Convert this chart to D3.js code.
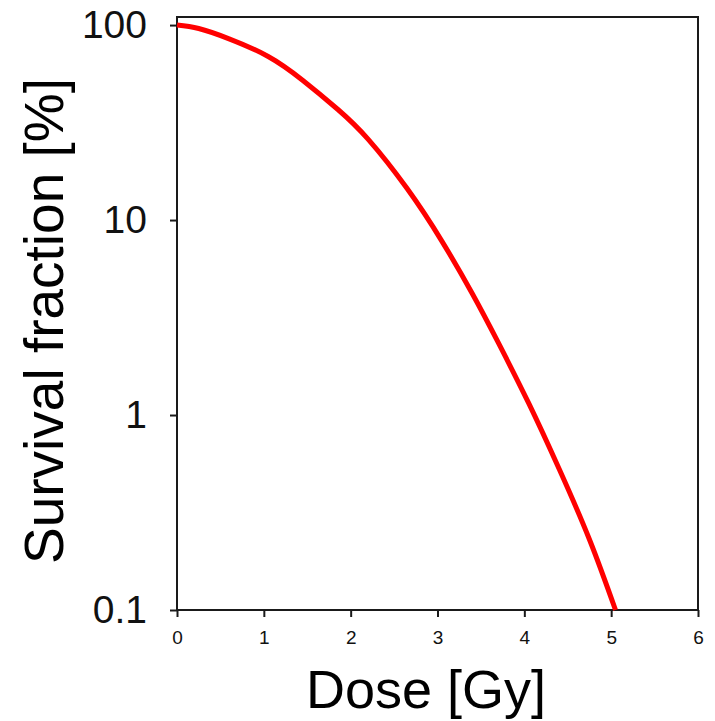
<!DOCTYPE html>
<html>
<head>
<meta charset="utf-8">
<script src="https://cdn.jsdelivr.net/npm/d3@7"></script>
<style>
  body { margin: 0; background: #fff; }
  svg { display: block; }
</style>
</head>
<body>
<div id="chart"></div>
<script>
// Survival curve (dose in Gy, survival in %)
const dose = [0, 0.25, 0.6, 1.05, 1.45, 1.85, 2.2, 2.65, 3.05, 3.4, 3.7, 4.05, 4.4, 4.75, 5.05];
const survival = [100, 96, 85, 69, 52, 37, 26, 14.5, 7.8, 4.2, 2.35, 1.15, 0.53, 0.23, 0.1];

const xTicks = [0, 1, 2, 3, 4, 5, 6];
const yTicks = [0.1, 1, 10, 100];

const width = 715;
const height = 721;
const plot = { left: 177, right: 698, top: 17, bottom: 610 };

const svg = d3.select("#chart")
    .append("svg")
    .attr("width", width)
    .attr("height", height);

const x = d3.scaleLinear()
    .domain([0, 6])
    .range([plot.left, plot.right]);

const y = d3.scaleLog()
    .domain([0.1, 110])
    .range([plot.bottom, plot.top]);

// frame
svg.append("rect")
    .attr("x", plot.left)
    .attr("y", plot.top)
    .attr("width", plot.right - plot.left)
    .attr("height", plot.bottom - plot.top)
    .style("fill", "none")
    .style("stroke", "#1a1a1a")
    .style("stroke-width", 2);

// x axis
const xAxis = svg.append("g")
    .attr("transform", `translate(0,${plot.bottom})`)
    .call(d3.axisBottom(x).tickValues(xTicks).tickFormat(d3.format("d"))
        .tickSize(7).tickPadding(14));
xAxis.select(".domain").remove();
xAxis.selectAll("line").style("stroke", "#1a1a1a").style("stroke-width", 2);
xAxis.selectAll("text")
    .style("font-family", "Liberation Sans, Arial, sans-serif")
    .style("font-size", "19px")
    .style("fill", "#111");

// y axis
const yAxis = svg.append("g")
    .attr("transform", `translate(${plot.left},0)`)
    .call(d3.axisLeft(y).tickValues(yTicks).tickFormat(d => d < 1 ? "0.1" : d3.format("d")(d))
        .tickSize(7).tickPadding(23));
yAxis.select(".domain").remove();
yAxis.selectAll("line").style("stroke", "#1a1a1a").style("stroke-width", 2);
yAxis.selectAll("text")
    .style("font-family", "Liberation Sans, Arial, sans-serif")
    .style("font-size", "39px")
    .style("fill", "#111");

// the curve
const points = dose.map((d, i) => ({ dose: d, surv: survival[i] }));
const line = d3.line()
    .x(d => x(d.dose))
    .y(d => y(d.surv))
    .curve(d3.curveNatural);

svg.append("path")
    .datum(points)
    .attr("d", line)
    .style("fill", "none")
    .style("stroke", "#ff0000")
    .style("stroke-width", 5)
    .style("stroke-linejoin", "round");

// axis titles
svg.append("text")
    .attr("x", 426)
    .attr("y", 708)
    .attr("text-anchor", "middle")
    .style("font-family", "Liberation Sans, Arial, sans-serif")
    .style("font-size", "54px")
    .style("fill", "#000")
    .text("Dose [Gy]");

svg.append("text")
    .attr("transform", "translate(63,321) rotate(-90)")
    .attr("text-anchor", "middle")
    .style("font-family", "Liberation Sans, Arial, sans-serif")
    .style("font-size", "55px")
    .style("fill", "#000")
    .text("Survival fraction [%]");
</script>
</body>
</html>
